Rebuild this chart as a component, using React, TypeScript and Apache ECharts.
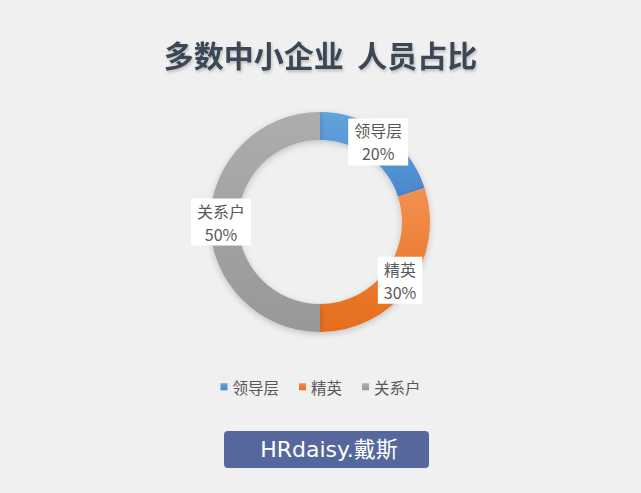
import React, { useEffect, useRef } from "react";
import * as echarts from "echarts";

const categories = ["领导层", "精英", "关系户"];
const values = [20, 30, 50];
const colorsTop = ["#62a3dc", "#f2914f", "#adadad"];
const colorsBottom = ["#4a88cc", "#e56d1c", "#989898"];

export default function App() {
  const ref = useRef<HTMLDivElement>(null);
  useEffect(() => {
    document.body.style.margin = "0";
    const chart = echarts.init(ref.current!, null, { renderer: "svg" });
    const data = categories.map((name, i) => ({
      name,
      value: values[i],
      itemStyle: {
        color: new echarts.graphic.LinearGradient(0, 0, 0, 1, [
          { offset: 0, color: colorsTop[i] },
          { offset: 1, color: colorsBottom[i] },
        ]),
      },
    }));
    chart.setOption({
      animation: false,
      backgroundColor: "#f0f0f0",
      title: {
        text: "多数中小企业  人员占比",
        left: "center",
        top: 34,
        textStyle: {
          fontFamily: "Noto Sans CJK SC",
          fontSize: 30,
          fontWeight: "bold",
          color: "#3b4656",
          textShadowColor: "rgba(0,0,0,0.22)",
          textShadowBlur: 3,
          textShadowOffsetX: 1,
          textShadowOffsetY: 2,
        },
      },
      legend: {
        data: categories,
        left: "center",
        top: 374,
        itemWidth: 7,
        itemHeight: 7,
        itemGap: 20,
        icon: "rect",
        textStyle: {
          fontFamily: "Noto Sans CJK SC",
          fontSize: 15.5,
          color: "#595959",
        },
      },
      graphic: [
        {
          type: "rect",
          shape: { x: 224, y: 431, width: 205, height: 37, r: 4 },
          style: { fill: "#55679c" },
        },
        {
          type: "text",
          x: 329,
          y: 449,
          style: {
            text: "HRdaisy.戴斯",
            fill: "#ffffff",
            font: "normal 22px 'DejaVu Sans', 'Noto Sans CJK SC'",
            align: "center",
            verticalAlign: "middle",
          },
        },
      ],
      series: [
        {
          type: "pie",
          center: [320, 222],
          radius: [82, 110],
          startAngle: 90,
          clockwise: true,
          avoidLabelOverlap: false,
          itemStyle: {
            shadowColor: "rgba(0,0,0,0.2)",
            shadowBlur: 6,
            shadowOffsetY: 2,
          },
          label: {
            show: true,
            position: "inside",
            formatter: "{b}\n{d}%",
            fontFamily: "Noto Sans CJK SC",
            fontSize: 16,
            lineHeight: 23,
            color: "#595959",
            backgroundColor: "#ffffff",
            padding: [1, 6, 0, 6],
          },
          labelLine: { show: false },
          emphasis: { disabled: true },
          data,
        },
      ],
    });
    return () => chart.dispose();
  }, []);
  return <div ref={ref} style={{ width: 641, height: 493 }} />;
}
